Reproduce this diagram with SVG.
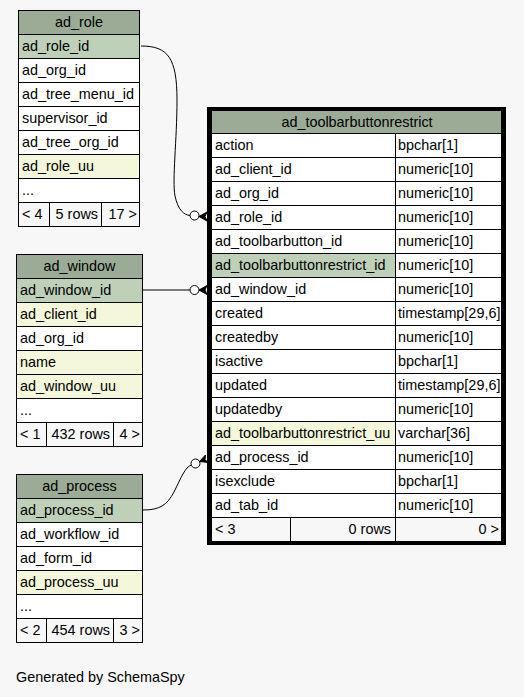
<svg xmlns="http://www.w3.org/2000/svg" width="524" height="697" viewBox="0 0 524 697">
<style>
text{font-family:"Liberation Sans",Arial,sans-serif;font-size:14.4px;fill:#000}
.c{text-anchor:middle}
.r{text-anchor:end}
rect.k{stroke:#000;stroke-width:1}
.h{fill:#9bab96}
.p{fill:#bed1b8}
.i{fill:#f4f7da}
.w{fill:#ffffff}
.f{fill:#f7f7f7}
.edge{fill:none;stroke:#000;stroke-width:1}
.odot{fill:#fff;stroke:#000;stroke-width:1}
.crow{fill:#000;stroke:#000;stroke-width:1}
.thick{fill:none;stroke:#000;stroke-width:4}
</style>
<rect x="0" y="0" width="524" height="697" fill="#f7f7f7"/>

<g id="ad_role">
<rect class="k h" x="18.5" y="10.5" width="121" height="24"/>
<text class="c" x="79" y="27">ad_role</text>
<rect class="k p" x="18.5" y="34.5" width="121" height="24"/>
<text x="22" y="51">ad_role_id</text>
<rect class="k w" x="18.5" y="58.5" width="121" height="24"/>
<text x="22" y="75">ad_org_id</text>
<rect class="k w" x="18.5" y="82.5" width="121" height="24"/>
<text x="22" y="99">ad_tree_menu_id</text>
<rect class="k w" x="18.5" y="106.5" width="121" height="24"/>
<text x="22" y="123">supervisor_id</text>
<rect class="k w" x="18.5" y="130.5" width="121" height="24"/>
<text x="22" y="147">ad_tree_org_id</text>
<rect class="k i" x="18.5" y="154.5" width="121" height="24"/>
<text x="22" y="171">ad_role_uu</text>
<rect class="k w" x="18.5" y="178.5" width="121" height="24"/>
<text x="22" y="195">...</text>
<rect class="k f" x="18.5" y="202.5" width="31" height="24"/>
<text x="22" y="219">&lt; 4</text>
<rect class="k f" x="49.5" y="202.5" width="52" height="24"/>
<text class="r" x="98" y="219">5 rows</text>
<rect class="k f" x="101.5" y="202.5" width="38" height="24"/>
<text class="r" x="137" y="219">17 &gt;</text>
</g>

<g id="ad_window">
<rect class="k h" x="16.5" y="254.5" width="126" height="24"/>
<text class="c" x="79.5" y="271">ad_window</text>
<rect class="k p" x="16.5" y="278.5" width="126" height="24"/>
<text x="20" y="295">ad_window_id</text>
<rect class="k i" x="16.5" y="302.5" width="126" height="24"/>
<text x="20" y="319">ad_client_id</text>
<rect class="k w" x="16.5" y="326.5" width="126" height="24"/>
<text x="20" y="343">ad_org_id</text>
<rect class="k i" x="16.5" y="350.5" width="126" height="24"/>
<text x="20" y="367">name</text>
<rect class="k i" x="16.5" y="374.5" width="126" height="24"/>
<text x="20" y="391">ad_window_uu</text>
<rect class="k w" x="16.5" y="398.5" width="126" height="24"/>
<text x="20" y="415">...</text>
<rect class="k f" x="16.5" y="422.5" width="30" height="24"/>
<text x="20" y="439">&lt; 1</text>
<rect class="k f" x="46.5" y="422.5" width="67" height="24"/>
<text class="r" x="110" y="439">432 rows</text>
<rect class="k f" x="113.5" y="422.5" width="29" height="24"/>
<text class="r" x="140" y="439">4 &gt;</text>
</g>

<g id="ad_process">
<rect class="k h" x="16.5" y="474.5" width="126" height="24"/>
<text class="c" x="79.5" y="491">ad_process</text>
<rect class="k p" x="16.5" y="498.5" width="126" height="24"/>
<text x="20" y="515">ad_process_id</text>
<rect class="k w" x="16.5" y="522.5" width="126" height="24"/>
<text x="20" y="539">ad_workflow_id</text>
<rect class="k w" x="16.5" y="546.5" width="126" height="24"/>
<text x="20" y="563">ad_form_id</text>
<rect class="k i" x="16.5" y="570.5" width="126" height="24"/>
<text x="20" y="587">ad_process_uu</text>
<rect class="k w" x="16.5" y="594.5" width="126" height="24"/>
<text x="20" y="611">...</text>
<rect class="k f" x="16.5" y="618.5" width="30" height="24"/>
<text x="20" y="635">&lt; 2</text>
<rect class="k f" x="46.5" y="618.5" width="67" height="24"/>
<text class="r" x="110" y="635">454 rows</text>
<rect class="k f" x="113.5" y="618.5" width="29" height="24"/>
<text class="r" x="140" y="635">3 &gt;</text>
</g>

<g id="ad_toolbarbuttonrestrict">
<rect class="k h" x="211.5" y="110.5" width="290" height="23"/>
<text class="c" x="357" y="127">ad_toolbarbuttonrestrict</text>

<rect class="k w" x="211.5" y="133.5" width="184" height="24"/><rect class="k w" x="395.5" y="133.5" width="106" height="24"/>
<text x="215" y="150">action</text><text x="398" y="150">bpchar[1]</text>
<rect class="k w" x="211.5" y="157.5" width="184" height="24"/><rect class="k w" x="395.5" y="157.5" width="106" height="24"/>
<text x="215" y="174">ad_client_id</text><text x="398" y="174">numeric[10]</text>
<rect class="k w" x="211.5" y="181.5" width="184" height="24"/><rect class="k w" x="395.5" y="181.5" width="106" height="24"/>
<text x="215" y="198">ad_org_id</text><text x="398" y="198">numeric[10]</text>
<rect class="k w" x="211.5" y="205.5" width="184" height="24"/><rect class="k w" x="395.5" y="205.5" width="106" height="24"/>
<text x="215" y="222">ad_role_id</text><text x="398" y="222">numeric[10]</text>
<rect class="k w" x="211.5" y="229.5" width="184" height="24"/><rect class="k w" x="395.5" y="229.5" width="106" height="24"/>
<text x="215" y="246">ad_toolbarbutton_id</text><text x="398" y="246">numeric[10]</text>
<rect class="k p" x="211.5" y="253.5" width="184" height="24"/><rect class="k w" x="395.5" y="253.5" width="106" height="24"/>
<text x="215" y="270">ad_toolbarbuttonrestrict_id</text><text x="398" y="270">numeric[10]</text>
<rect class="k w" x="211.5" y="277.5" width="184" height="24"/><rect class="k w" x="395.5" y="277.5" width="106" height="24"/>
<text x="215" y="294">ad_window_id</text><text x="398" y="294">numeric[10]</text>
<rect class="k w" x="211.5" y="301.5" width="184" height="24"/><rect class="k w" x="395.5" y="301.5" width="106" height="24"/>
<text x="215" y="318">created</text><text x="398" y="318">timestamp[29,6]</text>
<rect class="k w" x="211.5" y="325.5" width="184" height="24"/><rect class="k w" x="395.5" y="325.5" width="106" height="24"/>
<text x="215" y="342">createdby</text><text x="398" y="342">numeric[10]</text>
<rect class="k w" x="211.5" y="349.5" width="184" height="24"/><rect class="k w" x="395.5" y="349.5" width="106" height="24"/>
<text x="215" y="366">isactive</text><text x="398" y="366">bpchar[1]</text>
<rect class="k w" x="211.5" y="373.5" width="184" height="24"/><rect class="k w" x="395.5" y="373.5" width="106" height="24"/>
<text x="215" y="390">updated</text><text x="398" y="390">timestamp[29,6]</text>
<rect class="k w" x="211.5" y="397.5" width="184" height="24"/><rect class="k w" x="395.5" y="397.5" width="106" height="24"/>
<text x="215" y="414">updatedby</text><text x="398" y="414">numeric[10]</text>
<rect class="k i" x="211.5" y="421.5" width="184" height="24"/><rect class="k w" x="395.5" y="421.5" width="106" height="24"/>
<text x="215" y="438">ad_toolbarbuttonrestrict_uu</text><text x="398" y="438">varchar[36]</text>
<rect class="k w" x="211.5" y="445.5" width="184" height="24"/><rect class="k w" x="395.5" y="445.5" width="106" height="24"/>
<text x="215" y="462">ad_process_id</text><text x="398" y="462">numeric[10]</text>
<rect class="k w" x="211.5" y="469.5" width="184" height="24"/><rect class="k w" x="395.5" y="469.5" width="106" height="24"/>
<text x="215" y="486">isexclude</text><text x="398" y="486">bpchar[1]</text>
<rect class="k w" x="211.5" y="493.5" width="184" height="24"/><rect class="k w" x="395.5" y="493.5" width="106" height="24"/>
<text x="215" y="510">ad_tab_id</text><text x="398" y="510">numeric[10]</text>
<rect class="k f" x="211.5" y="517.5" width="79" height="24"/><rect class="k f" x="290.5" y="517.5" width="105" height="24"/><rect class="k f" x="395.5" y="517.5" width="106" height="24"/>
<text x="215" y="534">&lt; 3</text><text class="r" x="391" y="534">0 rows</text><text class="r" x="499" y="534">0 &gt;</text>
<rect class="thick" x="209" y="109" width="295" height="434"/>
</g>

<g id="connectors">
<path class="edge" d="M141,46 C168,46 177,58 177,100 C177,140 172,180 175,196 C178,210 184,215 190,215.5"/>
<circle class="odot" cx="194.5" cy="215.5" r="4.5"/>
<polygon class="crow" points="207,212 199,216.5 207,221 205,216.5"/>
<path class="edge" d="M143,290 L190,290"/>
<circle class="odot" cx="194.5" cy="290" r="4.5"/>
<polygon class="crow" points="207,285.5 199,290 207,294.5 205,290"/>
<path class="edge" d="M143,510 C160,510 167,505 174,492 C181,478 185,467 191.5,465"/>
<circle class="odot" cx="195.5" cy="463.5" r="4.5"/>
<polygon class="crow" points="205.5,455 199.5,461.5 208,462.5 205,459.5"/>
</g>

<text x="16" y="682">Generated by SchemaSpy</text>
</svg>
